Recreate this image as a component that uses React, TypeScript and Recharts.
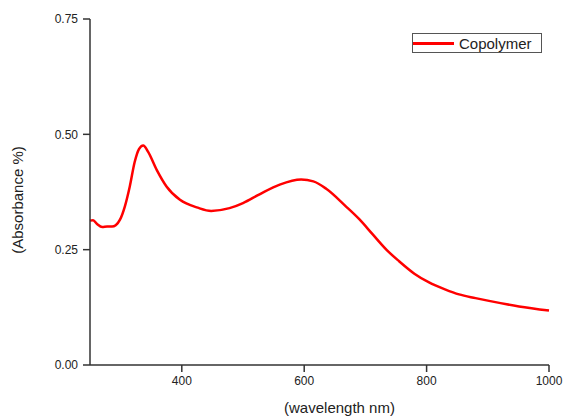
import { LineChart, Line, XAxis, YAxis } from 'recharts';

// wavelength (nm) and absorbance
const wavelengths = [
  250, 255, 262, 270, 278, 286, 292, 299, 307, 315, 323, 330, 337, 345, 359, 375,
  397, 426, 448, 478, 500, 527, 560, 595, 615, 636, 668, 690, 712, 735, 755, 780,
  804, 830, 853, 880, 902, 951, 1000,
];
const absorbance = [
  0.313, 0.314, 0.305, 0.299, 0.300, 0.300, 0.303, 0.315, 0.344, 0.387, 0.440, 0.468,
  0.476, 0.462, 0.423, 0.387, 0.358, 0.341, 0.334, 0.340, 0.351, 0.370, 0.391, 0.402,
  0.398, 0.382, 0.344, 0.316, 0.283, 0.249, 0.225, 0.198, 0.179, 0.164, 0.153, 0.145,
  0.139, 0.127, 0.118,
];

const xTicks = [400, 600, 800, 1000];
const yTicks = [0, 0.25, 0.5, 0.75];

const seriesName = 'Copolymer';
const AXIS = '#333';
const FONT = 'Liberation Sans, Arial, sans-serif';

const data = wavelengths.map((w, i) => ({ wavelength: w, value: absorbance[i] }));

function LegendBox() {
  return (
    <div
      style={{
        position: 'absolute',
        left: 412,
        top: 33,
        width: 128,
        height: 18,
        border: '1px solid #555',
        display: 'flex',
        alignItems: 'center',
        fontFamily: FONT,
        fontSize: 15,
        color: '#222',
        background: '#fff',
      }}
    >
      <div style={{ width: 41, height: 3, background: '#ff0000', marginRight: 5 }} />
      <span>{seriesName}</span>
    </div>
  );
}

export default function App() {
  return (
    <div style={{ position: 'absolute', left: 0, top: 0, width: 566, height: 417, background: '#fff' }}>
      <LineChart
        width={566}
        height={417}
        data={data}
        margin={{ top: 19, right: 17, bottom: 0, left: 0 }}
      >
        <XAxis
          dataKey="wavelength"
          type="number"
          domain={[250, 1000]}
          ticks={xTicks}
          height={52}
          tickSize={7}
          tickMargin={4}
          stroke={AXIS}
          strokeWidth={1.5}
          tick={{ fill: '#222', fontSize: 12, fontFamily: FONT }}
          label={{
            value: '(wavelength nm)',
            position: 'insideBottom',
            offset: 4,
            dx: 20,
            fill: '#222',
            fontSize: 15,
            fontFamily: FONT,
          }}
        />
        <YAxis
          type="number"
          domain={[0, 0.75]}
          ticks={yTicks}
          width={90}
          tickSize={7}
          tickMargin={5}
          stroke={AXIS}
          strokeWidth={1.5}
          tickFormatter={(v: number) => v.toFixed(2)}
          tick={{ fill: '#222', fontSize: 12, fontFamily: FONT }}
          label={{
            value: '(Absorbance %)',
            angle: -90,
            position: 'insideLeft',
            offset: 18,
            dy: 8,
            fill: '#222',
            fontSize: 15,
            fontFamily: FONT,
            style: { textAnchor: 'middle' },
          }}
        />
        <Line
          dataKey="value"
          name={seriesName}
          type="monotone"
          stroke="#ff0000"
          strokeWidth={2.5}
          dot={false}
          isAnimationActive={false}
        />
      </LineChart>
      <LegendBox />
    </div>
  );
}
